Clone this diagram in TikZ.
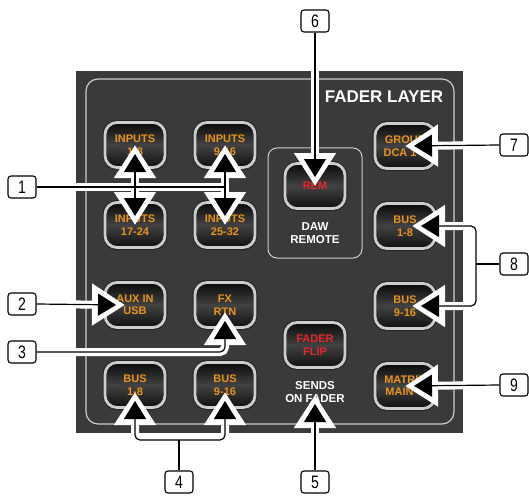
\documentclass[tikz,border=0pt]{standalone}
\usepackage{fontspec}
\setmainfont{Liberation Sans}
\newfontfamily\numfont[FakeStretch=0.78]{Liberation Sans}
\usetikzlibrary{arrows.meta}
\usetikzlibrary{positioning}

\definecolor{panelgray}{RGB}{58,58,58}
\definecolor{rimgray}{RGB}{205,205,205}
\definecolor{btnorange}{RGB}{233,146,30}
\definecolor{btnred}{RGB}{230,38,42}

\pgfdeclarelayer{front}
\pgfsetlayers{main,front}

\begin{document}
\begin{tikzpicture}[x=1pt, y=-1pt,
    btn/.style={rounded corners=12pt, minimum width=60pt, minimum height=45pt, inner sep=0pt,
      draw=rimgray, line width=2.8pt, top color=black!96, bottom color=black!94, middle color=black!74,
      preaction={draw=black!85, line width=5pt},
      align=center, text=btnorange, font=\fontsize{11}{12.5}\selectfont\bfseries},
    redbtn/.style={btn, text=btnred},
    caption/.style={align=center, text=white, font=\fontsize{11.5}{12.5}\selectfont\bfseries},
    numbox/.style={draw, fill=white, rounded corners=3pt, line width=1.1pt, minimum width=28pt,
      minimum height=22pt, inner sep=0pt, font=\numfont\fontsize{18}{18}\selectfont},
    wpass/.style={draw=white, line width=8pt, >={Triangle[length=33pt, width=40pt]}},
    bpass/.style={draw=black, line width=1.2pt, >={Triangle[length=18pt, width=22pt, sep=9pt]}}
  ]
    \useasboundingbox (0,0) rectangle (529,497);

    % panel
    \fill[panelgray] (76,71) rectangle (463,433);
    \draw[rimgray, line width=1.2pt, rounded corners=12pt] (86,79) rectangle (454,424);
    \draw[rimgray, line width=1pt, rounded corners=9pt] (268,148) rectangle (362,258);
    \node[text=white, font=\fontsize{17}{17}\selectfont\bfseries] (layer) at (384,97) {FADER LAYER};

    % buttons
    \node[btn] (in1) at (135,145) {INPUTS\\1-8};
    \node[btn] (in9) at (225,145) {INPUTS\\9-16};
    \node[btn] (in17) at (135,225) {INPUTS\\17-24};
    \node[btn] (in25) at (225,225) {INPUTS\\25-32};
    \node[btn] (aux) at (135,305) {AUX IN\\USB};
    \node[btn] (fx) at (225,305) {FX\\RTN};
    \node[btn] (bus1) at (135,385) {BUS\\1-8};
    \node[btn] (bus9) at (225,385) {BUS\\9-16};
    \node[redbtn] (rem) at (315,186) {REM};
    \node[redbtn] (flip) at (315,345) {FADER\\FLIP};
    \node[btn] (grp) at (405,146) {GROUP\\DCA 1-8};
    \node[btn] (bus1r) at (405,226) {BUS\\1-8};
    \node[btn] (bus9r) at (405,306) {BUS\\9-16};
    \node[btn] (mtx) at (405,386) {MATRIX\\MAIN C};

    \node[caption] (daw) at (315,233) {DAW\\REMOTE};
    \node[caption] (sof) at (315,392) {SENDS\\ON FADER};

    % callout numbers
    \begin{pgfonlayer}{front}
      \node[numbox] (n1) at (22,187) {1};
      \node[numbox] (n2) at (22,304) {2};
      \node[numbox] (n3) at (22,352) {3};
      \node[numbox] (n4) at (179,482) {4};
      \node[numbox] (n5) at (315,482) {5};
      \node[numbox] (n6) at (315,21) {6};
      \node[numbox] (n7) at (514,145) {7};
      \node[numbox] (n8) at (514,264) {8};
      \node[numbox] (n9) at (514,385) {9};
    \end{pgfonlayer}

    \coordinate (j1) at (225,187);
    \coordinate (j4) at (179,440);
    \coordinate (j8) at (476,264);

    % callout lines, white first then black
    \foreach \pass in {wpass,bpass} {
      \draw[\pass] (n1.east) -- (j1);
      \draw[\pass, <->] (in1.center) -- (in17.center);
      \draw[\pass, <->] (in9.center) -- (in25.center);
      \draw[\pass, ->] (n2.east) -- ([xshift=-10pt]aux.center);
      \draw[\pass, ->, rounded corners=5pt] (n3.east) -| ([yshift=-7pt]fx.center);
      \draw[\pass] (n4.north) -- (j4);
      \draw[\pass, ->, rounded corners=5pt] (j4) -| ([yshift=-7pt]bus1.center);
      \draw[\pass, ->, rounded corners=5pt] (j4) -| ([yshift=-7pt]bus9.center);
      \draw[\pass, ->] (n5.north) -- ([yshift=-3pt]sof.center);
      \draw[\pass, ->] (n6.south) -- (rem.center);
      \draw[\pass, ->] (n7.west) -- (grp.center);
      \draw[\pass] (n8.west) -- (j8);
      \draw[\pass, ->, rounded corners=5pt] (j8) |- ([xshift=7pt]bus1r.center);
      \draw[\pass, ->, rounded corners=5pt] (j8) |- ([xshift=7pt]bus9r.center);
      \draw[\pass, ->] (n9.west) -- (mtx.center);
    }
\end{tikzpicture}
\end{document}
